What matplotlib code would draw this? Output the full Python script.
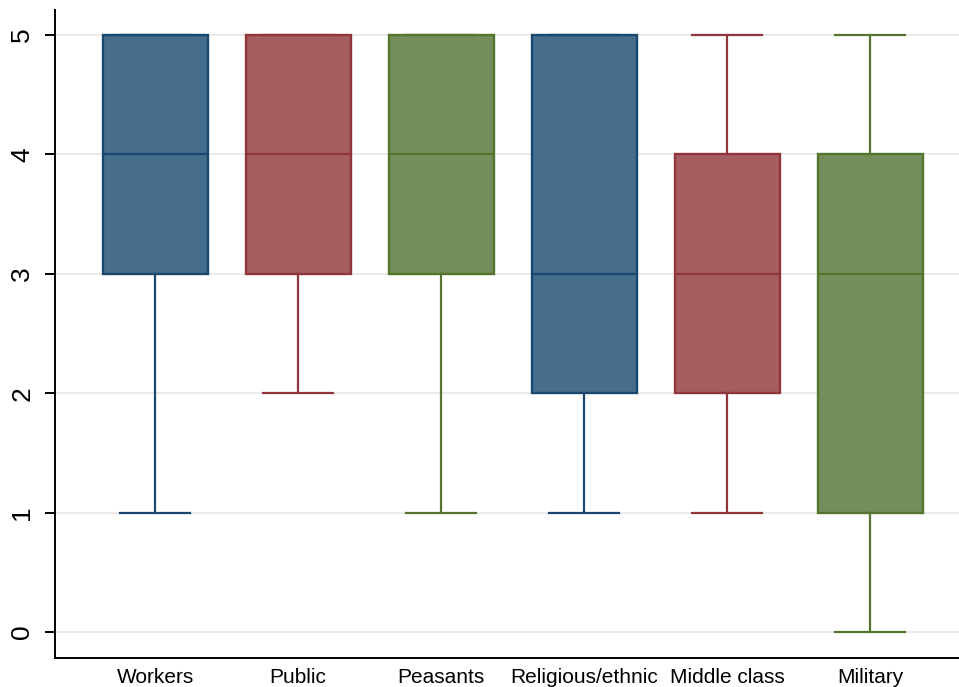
import matplotlib
matplotlib.use("Agg")
import matplotlib.pyplot as plt

categories = ["Workers", "Public", "Peasants", "Religious/ethnic", "Middle class", "Military"]
whisker_low = [1, 2, 1, 1, 1, 0]
q1 = [3, 3, 3, 2, 2, 1]
median = [4, 4, 4, 3, 3, 3]
q3 = [5, 5, 5, 5, 4, 4]
whisker_high = [5, 5, 5, 5, 5, 5]
yticks = [0, 1, 2, 3, 4, 5]

fills = ["#476d8c", "#a55e60", "#748f5a"]
edges = ["#1a476f", "#90353b", "#55752f"]

plt.rcParams["font.family"] = ["Liberation Sans", "DejaVu Sans"]

fig = plt.figure(figsize=(9.59, 6.87), dpi=100)
ax = fig.add_axes([55 / 959, 29 / 687, 1 - 55 / 959, 648 / 687])

stats = []
for i, name in enumerate(categories):
    stats.append(dict(label=name, whislo=whisker_low[i], q1=q1[i], med=median[i],
                      q3=q3[i], whishi=whisker_high[i], fliers=[]))

positions = list(range(1, len(categories) + 1))
bp = ax.bxp(stats, positions=positions, widths=0.735, patch_artist=True,
            showfliers=False, zorder=3)

for i in range(len(categories)):
    fc = fills[i % 3]
    ec = edges[i % 3]
    box = bp["boxes"][i]
    box.set_facecolor(fc)
    box.set_edgecolor(ec)
    box.set_linewidth(1.7)
    bp["medians"][i].set_color(ec)
    bp["medians"][i].set_linewidth(1.6)
    for w in bp["whiskers"][2 * i:2 * i + 2]:
        w.set_color(ec)
        w.set_linewidth(1.6)
    for c in bp["caps"][2 * i:2 * i + 2]:
        c.set_color(ec)
        c.set_linewidth(1.6)
        xd = c.get_xdata()
        mid = (xd[0] + xd[1]) / 2
        c.set_xdata([mid - 0.245, mid + 0.245])

ax.set_xlim(0.30, 6.62)
ax.set_ylim(-0.218, 5.21)
ax.set_yticks(yticks)
ax.set_yticklabels([str(t) for t in yticks], rotation=90, va="center", fontsize=19)
ax.set_xticks(positions)
ax.set_xticklabels(categories, fontsize=15)
ax.tick_params(axis="x", length=0, pad=7)
ax.tick_params(axis="y", length=7, width=1.4, pad=8)
ax.yaxis.grid(True, color="#e8e8e8", linewidth=1.2, zorder=0)
ax.set_axisbelow(True)

for s in ["top", "right"]:
    ax.spines[s].set_visible(False)
for s in ["left", "bottom"]:
    ax.spines[s].set_linewidth(1.4)

fig.savefig("out.png", dpi=100)
